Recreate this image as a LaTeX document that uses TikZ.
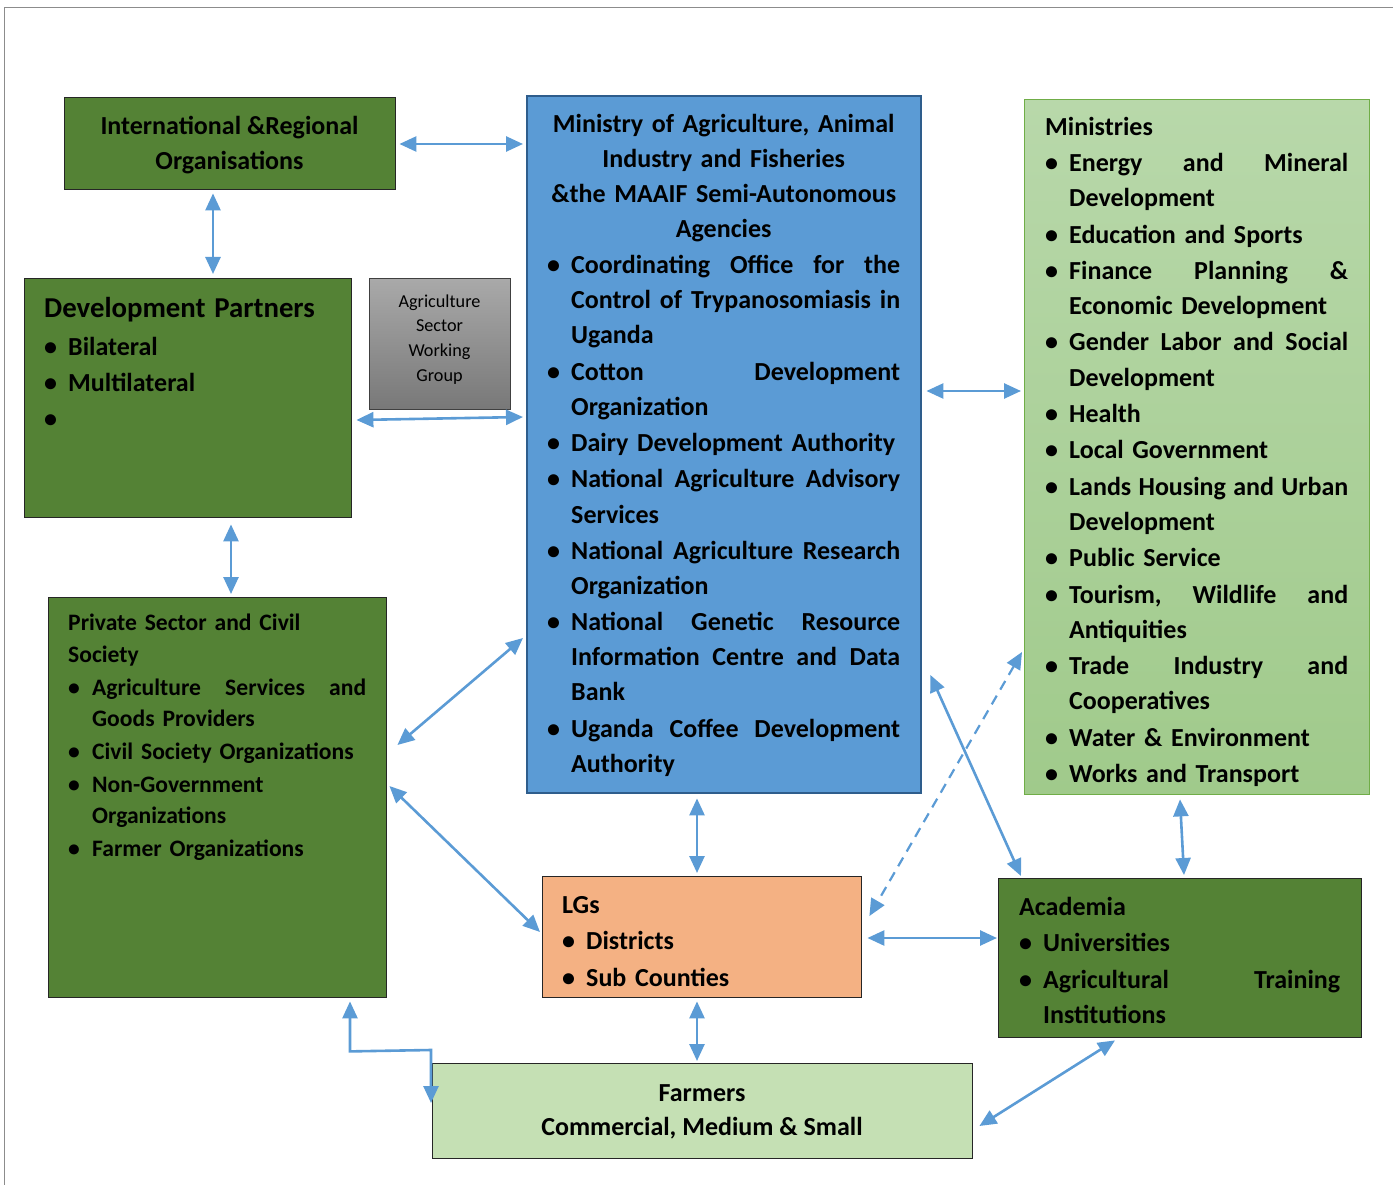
\documentclass[tikz,border=0pt]{standalone}
\usepackage{fontspec}
\setmainfont{Carlito}
\usetikzlibrary{arrows.meta,calc}
\definecolor{arrowblue}{HTML}{5B9BD5}
\definecolor{darkgreen}{HTML}{548235}
\definecolor{maaifblue}{HTML}{5B9BD5}
\definecolor{maaifedge}{HTML}{2E5D8C}
\definecolor{lgsorange}{HTML}{F4B183}
\definecolor{farmgreen}{HTML}{C5E0B4}
\definecolor{mintop}{HTML}{B8D8AA}
\definecolor{minbot}{HTML}{A0CA8B}
\definecolor{minedge}{HTML}{70AD47}
\definecolor{graytop}{HTML}{A9A9A9}
\definecolor{graybot}{HTML}{787878}
\definecolor{framegray}{HTML}{8C8C8C}
\newlength\bi \newlength\jw \newlength\tw
\newcommand\B[1]{\mbox{\makebox[\bi][l]{•}#1}}
\newcommand\I[1]{\mbox{\hspace*{\bi}#1}}
\newcommand\J[1]{\makebox[\jw][l]{#1}}
\newcommand\C[1]{\makebox[\tw][c]{#1}}
\newcommand\fs{\rule{0pt}{24pt}}
\newcommand\fss{\rule{0pt}{22pt}}
\tikzset{
  box/.style={draw=black!85, line width=1.4pt, anchor=north west, inner sep=0pt},
  tx/.style={anchor=north west, inner sep=0pt, align=left, font=\bfseries\fontsize{26}{35.1}\selectfont},
  ctx/.style={anchor=north, inner sep=0pt, align=center, font=\bfseries\fontsize{26}{35}\selectfont},
  arr/.style={draw=arrowblue, line width=2.6pt, {Triangle[length=17pt,width=15pt]}-{Triangle[length=17pt,width=15pt]}},
}
\begin{document}
\begin{tikzpicture}[x=1pt,y=-1pt]
\useasboundingbox (0,0) rectangle (1393,1185);
\draw[framegray, line width=1pt] (4,1185) -- (4,8) -- (1393,8);

% boxes
\node[box, fill=darkgreen, minimum width=331pt, minimum height=92pt] (intl) at (64,97) {};
\node[box, fill=maaifblue, draw=maaifedge, line width=2.4pt, minimum width=394pt, minimum height=697pt] (maaif) at (526,95) {};
\node[box, top color=mintop, bottom color=minbot, draw=minedge, line width=1.4pt, minimum width=345pt, minimum height=695pt] (mins) at (1024,99) {};
\node[box, fill=darkgreen, minimum width=327pt, minimum height=239pt] (devp) at (24,278) {};
\node[box, top color=graytop, bottom color=graybot, draw=black!75, minimum width=141pt, minimum height=131pt] (aswg) at (369,278) {};
\node[box, fill=darkgreen, minimum width=338pt, minimum height=400pt] (priv) at (48,597) {};
\node[box, fill=lgsorange, minimum width=319pt, minimum height=121pt] (lgs) at (542,876) {};
\node[box, fill=darkgreen, minimum width=363pt, minimum height=159pt] (acad) at (998,878) {};
\node[box, fill=farmgreen, minimum width=540pt, minimum height=95pt] (farm) at (432,1063) {};

% texts
\node[ctx] (tintl) at (229.5,110) {\fs International \&Regional\\Organisations};

\node[tx, text width=353pt] (tmaaif) at (547,108) {%
\setlength\bi{24pt}\setlength\jw{329pt}\setlength\tw{353pt}%
\noindent\fs\C{Ministry of Agriculture, Animal}\\
\C{Industry and Fisheries}\\
\C{\&the MAAIF Semi-Autonomous}\\
\C{Agencies}\\[1.2pt]
\B{\J{Coordinating\hfill Office\hfill for\hfill the}}\\
\I{\J{Control\hfill of\hfill Trypanosomiasis\hfill in}}\\
\I{Uganda}\\[1.2pt]
\B{\J{Cotton\hfill Development}}\\
\I{Organization}\\[1.2pt]
\B{Dairy Development Authority}\\[1.2pt]
\B{\J{National\hfill Agriculture\hfill Advisory}}\\
\I{Services}\\[1.2pt]
\B{\J{National\hfill Agriculture\hfill Research}}\\
\I{Organization}\\[1.2pt]
\B{\J{National\hfill Genetic\hfill Resource}}\\
\I{\J{Information\hfill Centre\hfill and\hfill Data}}\\
\I{Bank}\\[1.2pt]
\B{\J{Uganda\hfill Coffee\hfill Development}}\\
\I{Authority}};

\node[tx, text width=303pt] (tmins) at (1045,111) {%
\setlength\bi{24pt}\setlength\jw{279pt}%
\noindent\fs Ministries\\[1.3pt]
\B{\J{Energy\hfill and\hfill Mineral}}\\
\I{Development}\\[1.3pt]
\B{Education and Sports}\\[1.3pt]
\B{\J{Finance\hfill Planning\hfill \&}}\\
\I{Economic Development}\\[1.3pt]
\B{\J{Gender\hfill Labor\hfill and\hfill Social}}\\
\I{Development}\\[1.3pt]
\B{Health}\\[1.3pt]
\B{Local Government}\\[1.3pt]
\B{\J{Lands\hfill Housing\hfill and\hfill Urban}}\\
\I{Development}\\[1.3pt]
\B{Public Service}\\[1.3pt]
\B{\J{Tourism,\hfill Wildlife\hfill and}}\\
\I{Antiquities}\\[1.3pt]
\B{\J{Trade\hfill Industry\hfill and}}\\
\I{Cooperatives}\\[1.3pt]
\B{Water \& Environment}\\[1.3pt]
\B{Works and Transport}};

\node[tx, text width=300pt, font=\bfseries\fontsize{26}{36}\selectfont] (tdevp) at (44,291) {%
\setlength\bi{24pt}%
\noindent\rule{0pt}{26pt}{\fontsize{28.8}{36}\selectfont Development Partners}\\[2pt]
\B{Bilateral}\\
\B{Multilateral}\\
\B{}};

\node[anchor=north, inner sep=0pt, align=center, font=\fontsize{18.2}{24.7}\selectfont] (taswg) at (439.5,290) {\rule{0pt}{17pt}Agriculture\\Sector\\Working\\Group};

\node[tx, text width=298pt, font=\bfseries\fontsize{23.6}{31.8}\selectfont] (tpriv) at (68,608.5) {%
\setlength\bi{24pt}\setlength\jw{274pt}%
\noindent\fss Private Sector and Civil\\
Society\\[0.8pt]
\B{\J{Agriculture\hfill Services\hfill and}}\\
\I{Goods Providers}\\[0.8pt]
\B{Civil Society Organizations}\\[0.8pt]
\B{Non-Government}\\
\I{Organizations}\\[0.8pt]
\B{Farmer Organizations}};

\node[tx, text width=290pt, font=\bfseries\fontsize{26}{36.5}\selectfont] (tlgs) at (562,889) {%
\setlength\bi{24pt}%
\noindent\fs LGs\\
\B{Districts}\\
\B{Sub Counties}};

\node[tx, text width=321pt, font=\bfseries\fontsize{26}{35.5}\selectfont] (tacad) at (1019,891) {%
\setlength\bi{24pt}\setlength\jw{297pt}%
\noindent\fs Academia\\[1pt]
\B{Universities}\\[1pt]
\B{\J{Agricultural\hfill Training}}\\
\I{Institutions}};

\node[ctx, font=\bfseries\fontsize{26}{34}\selectfont] (tfarm) at (702,1077) {\fs Farmers\\Commercial, Medium \& Small};

% connectors
\draw[arr] ($(intl.north east)+(3,47)$) -- ($(maaif.north west)+(-3,49)$);
\draw[arr] ($(intl.south west)+(149,3)$) -- ($(devp.north west)+(189,-4)$);
\draw[arr] ($(devp.north east)+(4,142)$) -- ($(maaif.north west)+(-3,322)$);
\draw[arr] ($(maaif.north east)+(4,296)$) -- ($(mins.north west)+(-3,292)$);
\draw[arr] ($(devp.south west)+(207,6)$) -- ($(priv.north west)+(183,-3)$);
\draw[arr] ($(priv.north east)+(10,148)$) -- ($(maaif.north west)+(-3,543)$);
\draw[arr] ($(priv.north east)+(2,189)$) -- ($(lgs.north west)+(-2,56)$);
\draw[arr] ($(maaif.south west)+(171,4)$) -- ($(lgs.north west)+(155,-3)$);
\draw[arr] ($(lgs.north east)+(5,62)$) -- ($(acad.north west)+(-1,60)$);
\draw[arr] ($(maaif.north east)+(8,580)$) -- ($(acad.north west)+(23,-2)$);
\draw[arr, line width=2.2pt, dash pattern=on 10pt off 7pt] ($(mins.north west)+(-2,553)$) -- ($(lgs.north east)+(7,40)$);
\draw[arr] ($(mins.south west)+(156,4)$) -- ($(acad.north west)+(186,-3)$);
\draw[arr] ($(lgs.south west)+(155,3)$) -- ($(farm.north west)+(265,-2)$);
\draw[arr] ($(priv.south west)+(302,3)$) -- ($(priv.south west)+(302,53)$) -- ($(farm.north west)+(-1,-13)$) -- ($(farm.north west)+(-1,40)$);
\draw[arr] ($(farm.north east)+(6,63)$) -- ($(acad.south west)+(117,2)$);
\end{tikzpicture}
\end{document}
